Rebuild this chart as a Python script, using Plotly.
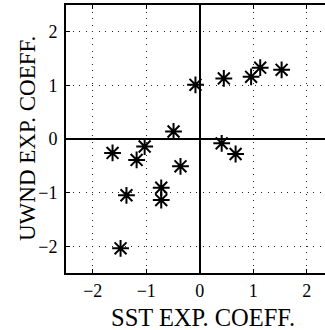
import plotly.graph_objects as go

sst_coeff = [-0.08, 0.45, 0.96, 1.13, 1.53, -0.49, 0.41, 0.67, -1.63, -1.03,
             -1.18, -0.36, -1.37, -0.72, -0.72, -1.48]
uwnd_coeff = [1.01, 1.13, 1.16, 1.33, 1.29, 0.14, -0.08, -0.28, -0.26, -0.14,
              -0.39, -0.51, -1.05, -0.91, -1.14, -2.04]
tick_values = [-2, -1, 0, 1, 2]
x_title = "SST EXP. COEFF."
y_title = "UWND EXP. COEFF."

W, H = 325, 330
L, R, T, B = 66, 0, 5, 57
pw, ph = W - L - R, H - T - B
unit_x = 53.5

font_family = "Liberation Serif, serif"

fig = go.Figure()
fig.add_trace(go.Scatter(
    x=sst_coeff, y=uwnd_coeff, mode="markers",
    marker=dict(symbol="asterisk-open", size=14, color="black",
                line=dict(color="black", width=2)),
    showlegend=False, cliponaxis=False,
))

axis_common = dict(
    tickvals=tick_values,
    ticktext=["\u22122", "\u22121", "0", "1", "2"],
    showgrid=True, gridcolor="#222", gridwidth=1, griddash="1px,5.5px",
    zeroline=True, zerolinecolor="black", zerolinewidth=2,
    showline=True, linecolor="black", linewidth=2,
    ticks="inside", ticklen=4, tickcolor="black", tickwidth=1,
    tickfont=dict(family=font_family, size=18, color="black"),
)

fig.update_xaxes(range=[-2.5, -2.5 + pw / unit_x], mirror="ticks", **axis_common)
fig.update_yaxes(range=[-2.5, 2.5], mirror=False, ticklabelstandoff=3, **axis_common)

fig.add_annotation(text=x_title, xref="paper", yref="paper",
                   x=(203 - L) / pw, y=-(317.5 - (T + ph)) / ph,
                   xanchor="center", yanchor="middle", showarrow=False,
                   font=dict(family=font_family, size=24.5, color="black"))
fig.add_annotation(text=y_title, xref="paper", yref="paper",
                   x=(27 - L) / pw, y=0.5, textangle=-90,
                   xanchor="center", yanchor="middle", showarrow=False,
                   font=dict(family=font_family, size=23, color="black"))

fig.update_layout(
    width=W, height=H,
    margin=dict(l=L, r=R, t=T, b=B, pad=0),
    paper_bgcolor="white", plot_bgcolor="white",
    font=dict(family=font_family, color="black"),
)

fig.write_html("out.html")
